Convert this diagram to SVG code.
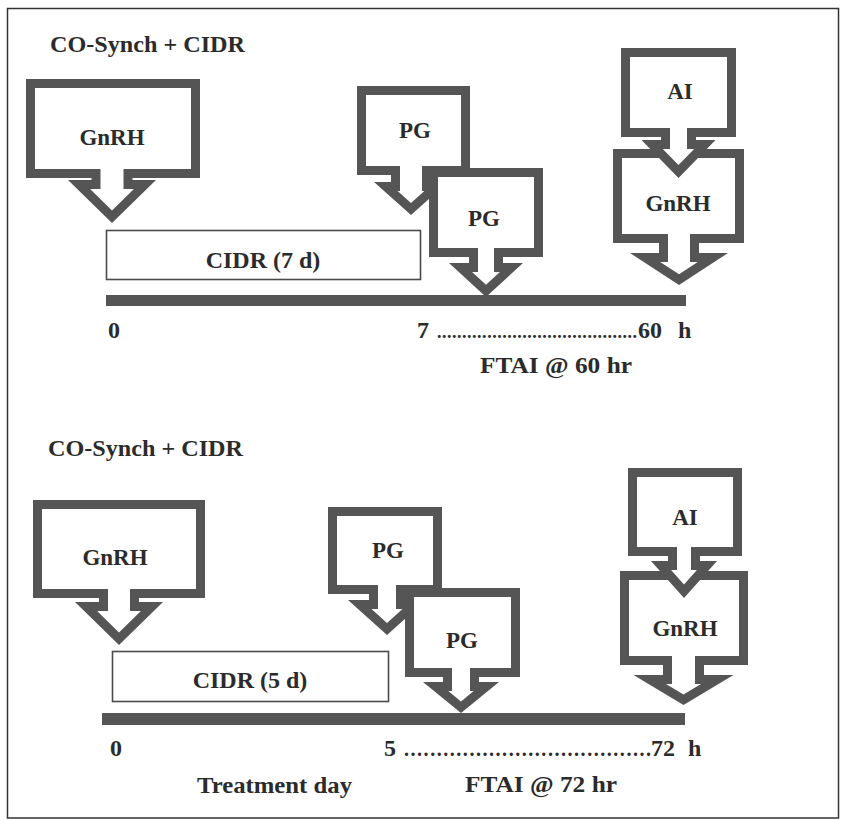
<svg xmlns="http://www.w3.org/2000/svg" width="841" height="820" viewBox="0 0 841 820">
<style>
.o{fill:#555555}
.i{fill:#ffffff}
.t{font-family:"Liberation Serif","Times New Roman",serif;font-weight:bold;fill:#2b2b2b;font-size:24px}
.c{font-family:"Liberation Serif","Times New Roman",serif;font-weight:bold;fill:#2b2b2b;font-size:23px;text-anchor:middle}
.d{font-family:"Liberation Serif","Times New Roman",serif;font-weight:bold;fill:#2b2b2b}
.box{fill:#ffffff;stroke:#4a4a4a;stroke-width:1.6}
.bar{fill:#555555}
</style>
<rect x="0" y="0" width="841" height="820" fill="#ffffff"/>
<rect x="7.5" y="8.5" width="831" height="809.5" fill="none" stroke="#333333" stroke-width="1.5"/>

<!-- Top protocol -->
<text id="title-top" class="t" x="50" y="52" textLength="195" lengthAdjust="spacingAndGlyphs">CO-Synch + CIDR</text>

<g id="cidr-top">
<rect class="box" x="106.5" y="230.5" width="314" height="49"/>
<text class="c" x="263" y="268" style="font-size:24px">CIDR (7 d)</text>
</g>

<g id="gnrh1">
<path class="o" d="M26,79 H200 V178 H132.5 V180 H156 L112,223 L68,180 H91.5 V178 H26 Z"/>
<path class="i" d="M35,88 H191 V169 H123.5 V189 H133.9 L112,210.4 L90.1,189 H100.5 V169 H35 Z"/>
<text class="c" x="112" y="145">GnRH</text>
</g>

<g id="pg1">
<path class="o" d="M357,86 H470 V175 H431 V182 H448 L411,215 L374,182 H391 V175 H357 Z"/>
<path class="i" d="M366,95 H461 V166 H422 V191 H424.4 L411,202.9 L397.6,191 H400 V166 H366 Z"/>
<text class="c" x="415" y="138">PG</text>
</g>

<g id="pg2">
<path class="o" d="M429,168 H543 V257 H503 V263 H523 L486,297 L449,263 H469 V257 H429 Z"/>
<path class="i" d="M438,177 H534 V248 H494 V272 H499.9 L486,284.8 L472.1,272 H478 V248 H438 Z"/>
<text class="c" x="484" y="226">PG</text>
</g>

<g id="gnrh2">
<path class="o" d="M613,149 H744 V243 H699 V253 H728 L679,285 L630,253 H659 V243 H613 Z"/>
<path class="i" d="M622,158 H735 V234 H690 V262 H697.8 L679,274.3 L660.2,262 H668 V234 H622 Z"/>
<text class="c" x="678" y="211">GnRH</text>
</g>

<g id="ai1">
<path class="o" d="M621,48 H736 V137 H696 V140 H715.5 L678.5,178 L641.5,140 H661 V137 H621 Z"/>
<path class="i" d="M630,57 H727 V128 H687 V149 H694.2 L678.5,165.1 L662.8,149 H670 V128 H630 Z"/>
<text class="c" x="680" y="99">AI</text>
</g>

<g id="labels-top">
<text class="t" x="108" y="338">0</text>
<text class="t" x="417" y="338">7</text>
<text class="d" x="437" y="338" style="font-size:18px" textLength="200" lengthAdjust="spacing">........................................</text>
<text class="t" x="638" y="338">60</text>
<text class="t" x="678" y="338">h</text>
<text class="t" x="480" y="373" textLength="152" lengthAdjust="spacingAndGlyphs">FTAI @ 60 hr</text>
</g>

<!-- Bottom protocol -->
<text id="title-bottom" class="t" x="48" y="456" textLength="195" lengthAdjust="spacingAndGlyphs">CO-Synch + CIDR</text>

<g id="cidr-bottom">
<rect class="box" x="112.5" y="651.5" width="276" height="50"/>
<text class="c" x="250" y="688" style="font-size:24px">CIDR (5 d)</text>
</g>

<g id="gnrh3">
<path class="o" d="M33,500 H205 V598 H139 V602 H163 L119,645 L75,602 H99 V598 H33 Z"/>
<path class="i" d="M42,509 H196 V589 H130 V611 H140.9 L119,632.4 L97.1,611 H108 V589 H42 Z"/>
<text class="c" x="115" y="565">GnRH</text>
</g>

<g id="pg3">
<path class="o" d="M328,507 H442 V594 H405 V600 H426 L387,635 L348,600 H369 V594 H328 Z"/>
<path class="i" d="M337,516 H433 V585 H396 V609 H402.5 L387,622.9 L371.5,609 H378 V585 H337 Z"/>
<text class="c" x="388" y="558">PG</text>
</g>

<g id="pg4">
<path class="o" d="M405,588 H520 V677 H479 V682 H499 L461,713 L423,682 H443 V677 H405 Z"/>
<path class="i" d="M414,597 H511 V668 H470 V691 H473.7 L461,701.4 L448.3,691 H452 V668 H414 Z"/>
<text class="c" x="462" y="648">PG</text>
</g>

<g id="gnrh4">
<path class="o" d="M620,571 H748 V665 H704 V675 H733.5 L683.5,705 L633.5,675 H663 V665 H620 Z"/>
<path class="i" d="M629,580 H739 V656 H695 V684 H701 L683.5,694.5 L666,684 H672 V656 H629 Z"/>
<text class="c" x="685" y="636">GnRH</text>
</g>

<g id="ai2">
<path class="o" d="M628,468 H742 V556 H700 V561 H717 L684,598 L651,561 H668 V556 H628 Z"/>
<path class="i" d="M637,477 H733 V547 H691 V570 H696.9 L684,584.5 L671.1,570 H677 V547 H637 Z"/>
<text class="c" x="685" y="525">AI</text>
</g>

<g id="labels-bottom">
<text class="t" x="110" y="756">0</text>
<text class="t" x="384" y="756">5</text>
<text class="d" x="404" y="756" style="font-size:20px" textLength="247" lengthAdjust="spacing">......................................</text>
<text class="t" x="651" y="756">72</text>
<text class="t" x="688" y="756">h</text>
<text class="t" x="197" y="793" textLength="155" lengthAdjust="spacingAndGlyphs">Treatment day</text>
<text class="t" x="465" y="792" textLength="152" lengthAdjust="spacingAndGlyphs">FTAI @ 72 hr</text>
</g>

<!-- Timelines (connectors) -->
<g id="connectors">
<rect class="bar" x="106" y="295" width="580" height="11"/>
<rect class="bar" x="102" y="713" width="583" height="12"/>
</g>
</svg>
